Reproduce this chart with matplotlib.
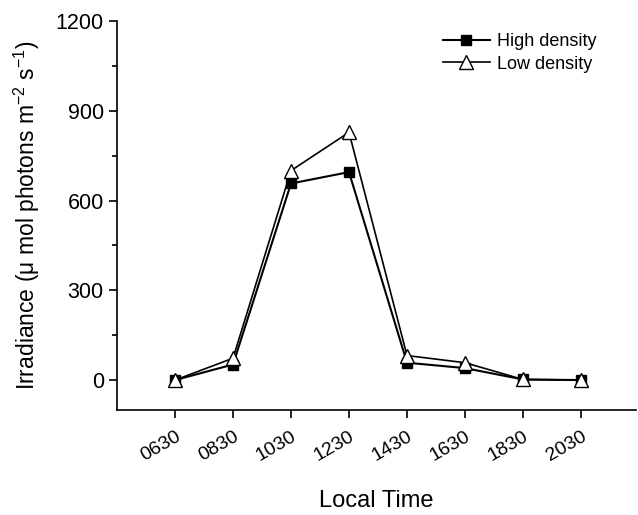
import numpy as np
import matplotlib
matplotlib.use('Agg')
import matplotlib.pyplot as plt
from matplotlib.ticker import MultipleLocator

plt.rcParams['font.family'] = ['Liberation Sans', 'DejaVu Sans']

times = ['0630', '0830', '1030', '1230', '1430', '1630', '1830', '2030']
high_density = [0, 52, 657, 695, 58, 40, 2, 0]
low_density = [0, 73, 700, 828, 82, 58, 2, 0]

fig = plt.figure(figsize=(6.38, 5.15), dpi=100)
ax = fig.add_axes([0.1834, 0.2039, 0.8136, 0.7553])

x = np.arange(len(times))
ax.plot(x, high_density, color='black', lw=1.5, marker='s', ms=7,
        mfc='black', mec='black', label='High density', zorder=3)
ax.plot(x, low_density, color='black', lw=1.2, marker='^', ms=10,
        mfc='white', mec='black', mew=1.0, label='Low density', zorder=4)

ax.set_xlim(-1, 7.95)
ax.set_ylim(-100, 1200)
ax.set_xticks(x)
ax.set_xticklabels(times, rotation=30, ha='right', rotation_mode='anchor')
ax.set_yticks([0, 300, 600, 900, 1200])
ax.yaxis.set_minor_locator(MultipleLocator(150))

for s in ['top', 'right']:
    ax.spines[s].set_visible(False)
for s in ['left', 'bottom']:
    ax.spines[s].set_linewidth(1.2)

ax.tick_params(axis='both', which='major', direction='out', length=6, width=1.2)
ax.tick_params(axis='y', which='major', labelsize=15.5)
ax.tick_params(axis='x', which='major', labelsize=14, pad=7)
ax.tick_params(axis='y', which='minor', direction='out', length=3.5, width=1.2)

ax.set_xlabel('Local Time', fontsize=17, labelpad=18)
ax.set_ylabel(r'Irradiance ($\mathregular{\mu}$ mol photons m$^{\mathregular{-2}}$ s$^{\mathregular{-1}}$)', fontsize=16.5, labelpad=10)

ax.legend(loc='upper right', bbox_to_anchor=(0.955, 1.01), frameon=False, fontsize=13,
          handlelength=2.6, handletextpad=0.4, labelspacing=0.3)

plt.savefig('out.png', dpi=100)
